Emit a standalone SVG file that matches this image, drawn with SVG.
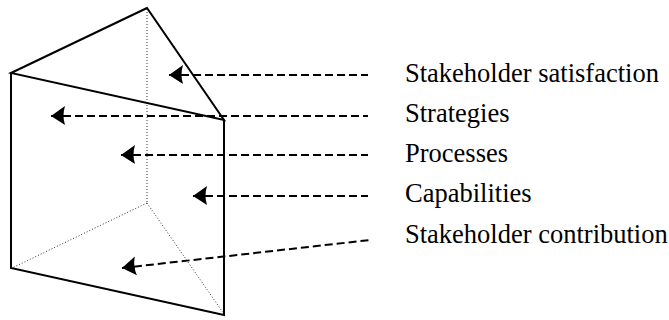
<svg xmlns="http://www.w3.org/2000/svg" width="669" height="320" viewBox="0 0 669 320">
  <style>
    .edge { fill: none; stroke: #000; stroke-width: 2; stroke-linejoin: miter; }
    .hidden { fill: none; stroke: #333; stroke-width: 1; stroke-dasharray: 1 2; }
    .link { fill: none; stroke: #000; stroke-width: 2; stroke-dasharray: 8 4; marker-start: url(#head); }
    .label { font-family: "Liberation Serif", "Times New Roman", serif; font-size: 26.5px; fill: #000; }
  </style>
  <defs>
    <marker id="head" viewBox="0 -11 17 22" refX="15" refY="0" markerWidth="17" markerHeight="22" markerUnits="userSpaceOnUse" orient="auto-start-reverse">
      <path d="M15,0 L1,-9 Q4,0 1,10 Z" fill="#000"/>
    </marker>
  </defs>

  <!-- triangular prism -->
  <g id="prism">
    <!-- hidden edges -->
    <line class="hidden" x1="147" y1="9" x2="147" y2="203"/>
    <line class="hidden" x1="147" y1="203" x2="12" y2="268"/>
    <line class="hidden" x1="147" y1="203" x2="224" y2="314"/>
    <!-- visible edges -->
    <polygon class="edge" points="147,8 11,73 224,120"/>
    <polyline class="edge" points="11,73 11,268 224,315 224,120"/>
  </g>

  <!-- dashed pointers from labels to prism faces -->
  <g id="connectors">
    <line class="link" x1="169" y1="75" x2="368" y2="75"/>
    <line class="link" x1="51" y1="116" x2="368" y2="116"/>
    <line class="link" x1="121" y1="155" x2="368" y2="155"/>
    <line class="link" x1="193" y1="196" x2="368" y2="196"/>
    <line class="link" x1="122" y1="268" x2="370" y2="240"/>
  </g>

  <g id="label-satisfaction"><text class="label" x="405" y="82">Stakeholder satisfaction</text></g>
  <g id="label-strategies"><text class="label" x="405" y="122">Strategies</text></g>
  <g id="label-processes"><text class="label" x="405" y="162">Processes</text></g>
  <g id="label-capabilities"><text class="label" x="405" y="202">Capabilities</text></g>
  <g id="label-contribution"><text class="label" x="405" y="243">Stakeholder contribution</text></g>
</svg>
